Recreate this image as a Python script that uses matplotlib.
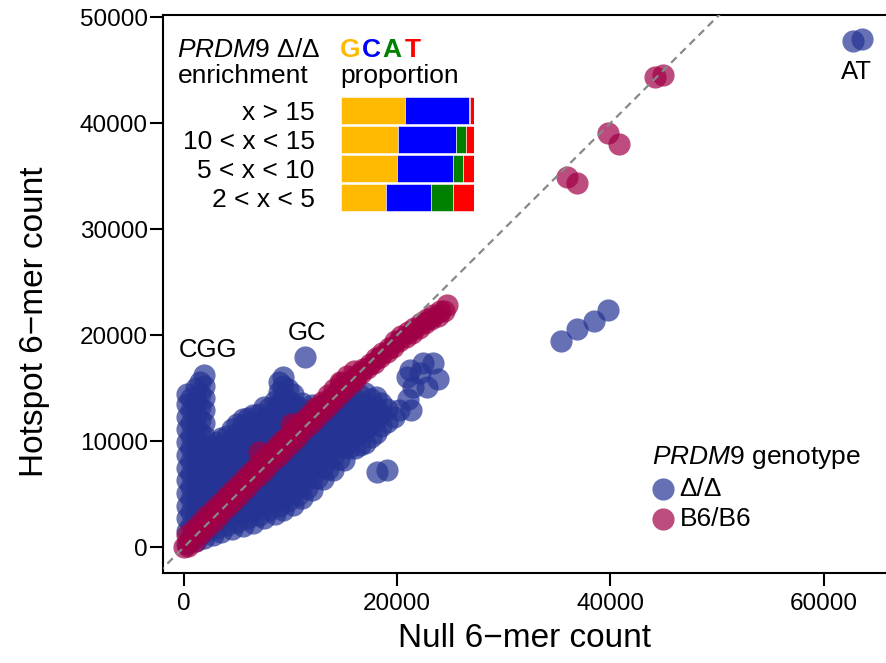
import matplotlib.pyplot as plt

plt.rcParams['font.family'] = ['Liberation Sans', 'DejaVu Sans']
plt.rcParams['mathtext.fontset'] = 'custom'
plt.rcParams['mathtext.rm'] = 'Liberation Sans'
plt.rcParams['mathtext.it'] = 'Liberation Sans:italic'
plt.rcParams['lines.scale_dashes'] = False

# 6-mer counts in thousands (null count, hotspot count)
# PRDM9 delta/delta cloud, given column by column
delta_cols = [
    (0.3, [0.3, 1.5, 2.7, 3.9, 5.1, 6.3, 7.5, 8.7, 9.9, 11.1, 12.3, 13.5, 14.4]),
    (0.7, [0.9, 2.1, 3.3, 4.5, 5.7, 6.9, 8.1, 9.3, 10.5, 11.7, 12.9, 14.1]),
    (1.1, [0.6, 1.8, 3.0, 4.2, 5.4, 6.6, 7.8, 9.0, 10.2, 11.4, 12.6, 13.8, 15.0]),
    (1.5, [1.2, 2.4, 3.6, 4.8, 6.0, 7.2, 8.4, 9.6, 10.8, 12.0, 13.2, 14.4, 15.6]),
    (1.9, [0.9, 2.1, 3.3, 4.5, 5.7, 6.9, 8.1, 9.3, 10.5, 11.7, 12.9, 14.1, 15.2, 16.2]),
    (2.3, [1.6, 2.8, 4.0, 5.2, 6.4, 7.6, 8.8, 9.6]),
    (2.7, [1.1, 2.3, 3.5, 4.7, 5.9, 7.1, 8.2, 9.0]),
    (3.1, [1.8, 3.0, 4.2, 5.4, 6.6, 7.8, 9.0, 9.9]),
    (3.5, [1.4, 2.6, 3.8, 5.0, 6.2, 7.4, 8.6, 9.6, 10.3]),
    (4.0, [2.1, 3.3, 4.5, 5.7, 6.9, 8.1, 9.3, 10.5]),
    (4.5, [1.7, 2.9, 4.1, 5.3, 6.5, 7.7, 8.9, 10.1, 11.1]),
    (5.0, [2.4, 3.6, 4.8, 6.0, 7.2, 8.4, 9.6, 10.8, 11.6]),
    (5.5, [2.0, 3.2, 4.4, 5.6, 6.8, 8.0, 9.2, 10.4, 11.5, 12.1]),
    (6.0, [2.7, 3.9, 5.1, 6.3, 7.5, 8.7, 9.9, 11.1, 12.2]),
    (6.5, [2.3, 3.5, 4.7, 5.9, 7.1, 8.3, 9.5, 10.7, 11.8, 12.5]),
    (7.0, [3.0, 4.2, 5.4, 6.6, 7.8, 9.0, 10.2, 11.4, 12.6]),
    (7.5, [2.7, 3.9, 5.1, 6.3, 7.5, 8.7, 9.9, 11.1, 12.2, 13.2]),
    (8.0, [3.5, 4.7, 5.9, 7.1, 8.3, 9.5, 10.7, 11.9, 13.1]),
    (8.5, [3.1, 4.3, 5.5, 6.7, 7.9, 9.1, 10.3, 11.5, 12.7, 13.8]),
    (8.9, [3.9, 5.1, 6.3, 7.5, 8.7, 9.9, 11.1, 12.3, 13.5, 14.6, 15.6]),
    (9.3, [3.5, 4.7, 5.9, 7.1, 8.3, 9.5, 10.7, 11.9, 13.1, 14.2, 15.2, 16.0]),
    (9.75, [4.3, 5.5, 6.7, 7.9, 9.1, 10.3, 11.5, 12.7, 13.9, 14.9]),
    (10.2, [4.0, 5.2, 6.4, 7.6, 8.8, 10.0, 11.2, 12.4, 13.5, 14.4]),
    (10.65, [4.9, 6.1, 7.3, 8.5, 9.7, 10.9, 12.1, 13.2]),
    (11.1, [4.6, 5.8, 7.0, 8.2, 9.4, 10.6, 11.8, 12.8, 13.6]),
    (11.55, [5.6, 6.8, 8.0, 9.2, 10.4, 11.6, 12.8]),
    (12.0, [5.4, 6.6, 7.8, 9.0, 10.2, 11.4, 12.6, 13.4]),
    (12.5, [6.5, 7.7, 8.9, 10.1, 11.3, 12.5]),
    (13.0, [6.4, 7.6, 8.8, 10.0, 11.2, 12.4, 13.4]),
    (13.5, [7.4, 8.6, 9.8, 11.0, 12.2, 13.2]),
    (14.0, [7.3, 8.5, 9.7, 10.9, 12.1, 13.2]),
    (14.5, [8.3, 9.5, 10.7, 11.9, 13.1]),
    (15.0, [8.2, 9.4, 10.6, 11.8, 13.0, 13.8]),
    (15.5, [9.3, 10.5, 11.7, 12.9, 14.0]),
    (16.0, [9.3, 10.5, 11.7, 12.9, 14.0]),
    (16.5, [9.6, 10.8, 12.0, 13.2, 14.3]),
    (17.0, [9.8, 11.0, 12.2, 13.4, 14.5]),
    (17.5, [10.4, 11.6, 12.8, 14.0]),
    (18.0, [10.8, 12.0, 13.2, 14.2]),
    (18.5, [11.4, 12.6, 13.6]),
    (19.0, [11.8, 13.0]),
]
# delta/delta points outside the main cloud
delta_extra_x = [20.2, 21.3, 19.7, 21.0, 21.5, 22.8, 23.8, 20.9, 22.1, 21.2, 22.4, 23.4,
                 18.1, 19.0, 11.35, 35.4, 36.9, 38.5, 39.8, 62.8, 63.6]
delta_extra_y = [12.9, 12.9, 12.3, 14.0, 15.1, 15.1, 15.9, 16.0, 16.4, 16.7, 17.4, 17.4,
                 7.1, 7.3, 17.9, 19.4, 20.6, 21.3, 22.4, 47.7, 47.9]

# PRDM9 B6/B6
b6_x = [0.0, 0.6, 1.2, 1.8, 2.4, 3.0, 3.6, 4.2, 4.8, 5.4, 6.0, 6.6, 7.0, 7.2, 7.8, 8.4,
        9.0, 9.6, 10.0, 10.2, 10.8, 11.4, 12.0, 12.6, 13.2, 13.8, 14.4, 14.6, 15.0, 15.6,
        16.2, 16.8, 17.4, 18.0, 18.6, 19.2, 19.8, 20.4, 21.0, 21.6, 22.2, 22.8, 23.4, 24.0,
        24.7, 35.9, 36.9, 39.8, 40.8, 44.2, 44.9,
        0.4, 1.0, 1.6, 2.2, 2.8, 3.4, 4.0, 4.6, 5.2, 5.8, 6.4, 7.0, 7.6, 8.2, 8.8, 9.4,
        10.0, 10.6, 11.2, 11.8, 12.4, 13.0, 13.6, 14.2, 14.8, 15.4, 16.0, 16.6, 17.2, 17.8,
        18.4, 19.0, 19.6, 20.2, 20.8, 21.4, 22.0, 22.6, 23.2, 23.8, 24.4,
        0.3, 0.9, 1.5, 2.1, 2.7, 3.3, 3.9, 4.5, 5.1, 5.7, 6.3, 6.9, 7.5, 8.1, 8.7, 9.3,
        9.9, 10.5, 11.1, 11.7, 12.3, 12.9, 13.5, 14.1, 14.7, 15.3, 15.9]
b6_y = [0.0, 0.8, 1.4, 2.0, 2.7, 3.3, 3.9, 4.6, 5.2, 5.8, 6.5, 7.1, 9.0, 7.8, 8.4, 9.0,
        9.6, 10.2, 11.6, 10.7, 11.3, 11.9, 12.5, 13.0, 13.6, 14.1, 14.7, 15.6, 15.2, 15.7,
        16.2, 16.8, 17.3, 17.8, 18.3, 18.8, 19.4, 19.9, 20.3, 20.7, 21.1, 21.5, 21.9, 22.3,
        22.8, 34.9, 34.3, 39.1, 38.0, 44.3, 44.5,
        0.1, 0.6, 1.3, 1.9, 2.5, 3.1, 3.8, 4.3, 4.9, 5.6, 6.2, 6.8, 7.4, 8.0, 8.6, 9.2,
        9.8, 10.4, 11.0, 11.6, 12.2, 12.8, 13.4, 14.0, 14.6, 15.2, 15.8, 16.4, 16.9, 17.4,
        17.9, 18.4, 18.9, 19.4, 19.8, 20.2, 20.7, 21.1, 21.5, 21.8, 22.3,
        1.1, 1.7, 2.3, 2.9, 3.5, 4.1, 4.7, 5.3, 5.9, 6.5, 7.1, 7.7, 8.3, 8.9, 9.5, 10.1,
        10.7, 11.3, 11.9, 12.5, 13.1, 13.7, 14.3, 14.9, 15.5, 16.1, 16.6]

labels = [("CGG", 2.25, 18.6), ("GC", 11.5, 20.2), ("AT", 63.1, 44.8)]

# inset: base proportions by enrichment bin
bins = ["x > 15", "10 < x < 15", "5 < x < 10", "2 < x < 5"]
g_prop = [0.48, 0.43, 0.42, 0.335]
c_prop = [0.485, 0.435, 0.425, 0.345]
a_prop = [0.005, 0.075, 0.075, 0.16]
t_prop = [0.03, 0.06, 0.08, 0.16]
base_colors = {"G": "#ffb900", "C": "#0000ff", "A": "#008000", "T": "#ff0000"}

blue = "#253494"
red = "#a00046"

dx, dy = [], []
for x, ys in delta_cols:
    dx += [x] * len(ys)
    dy += ys
dx += delta_extra_x
dy += delta_extra_y
dx = [v * 1000 for v in dx]
dy = [v * 1000 for v in dy]
bx = [v * 1000 for v in b6_x]
by = [v * 1000 for v in b6_y]

fig = plt.figure(figsize=(8.86, 6.63), dpi=100)
ax = fig.add_axes([0.184, 0.1357, 0.816, 0.8416])

sc_d = ax.scatter(dx, dy, s=255, color=blue, alpha=0.7, linewidths=0, zorder=2)
sc_b = ax.scatter(bx, by, s=255, color=red, alpha=0.7, linewidths=0, zorder=3)
ax.plot([-5000, 70000], [-5000, 70000], color="#888888", lw=1.6, dashes=(5.5, 3.8), zorder=4)

for txt, x, y in labels:
    ax.text(x * 1000, y * 1000, txt, ha="center", va="center", fontsize=18.5)

ax.set_xlim(-1970, 65850)
ax.set_ylim(-2450, 50190)
ax.set_xticks([0, 20000, 40000, 60000])
ax.set_yticks([0, 10000, 20000, 30000, 40000, 50000])
ax.tick_params(direction="out", length=9.5, width=1.5, labelsize=17.5, pad=1.5)
ax.tick_params(axis="x", pad=5)
for side in ["left", "bottom", "top"]:
    ax.spines[side].set_linewidth(1.5)
ax.spines["right"].set_visible(False)

ax.set_xlabel("Null 6\u2212mer count", fontsize=24)
ax.set_ylabel("Hotspot 6\u2212mer count", fontsize=24)
ax.xaxis.set_label_coords(0.5, -0.09)
ax.yaxis.set_label_coords(-0.157, 0.45)

leg = ax.legend([sc_d, sc_b], ["\u0394/\u0394", "B6/B6"], title="$\\mathit{PRDM9}$ genotype",
                loc="upper left", bbox_to_anchor=(652 / 886, 1 - 444 / 663),
                bbox_transform=fig.transFigure, frameon=False, fontsize=19,
                title_fontsize=19, handletextpad=0.2, labelspacing=0.22, borderpad=0,
                borderaxespad=0, alignment="left", handlelength=0.85, scatterpoints=1)

# inset bars
ins = fig.add_axes([341 / 886, 1 - 212 / 663, 133 / 886, 116 / 663])
rows = [3, 2, 1, 0]
left = [0.0] * 4
for base, vals in [("G", g_prop), ("C", c_prop), ("A", a_prop), ("T", t_prop)]:
    ins.barh(rows, vals, left=left, height=0.9, color=base_colors[base],
             edgecolor="white", linewidth=0.4)
    left = [l + v for l, v in zip(left, vals)]
ins.set_xlim(0, 1)
ins.set_ylim(-0.5, 3.5)
ins.set_xticks([])
ins.set_yticks(rows)
ins.set_yticklabels(bins, fontsize=19)
ins.tick_params(axis="y", length=0, pad=19)
for s in ins.spines.values():
    s.set_visible(False)
ins.patch.set_alpha(0)

fig.text(177 / 886, 1 - 57 / 663, "$\\mathit{PRDM9}$ \u0394/\u0394", fontsize=19, va="baseline")
fig.text(178 / 886, 1 - 83 / 663, "enrichment", fontsize=19, va="baseline")
for letter, px in [("G", 340), ("C", 362), ("A", 382), ("T", 405)]:
    fig.text(px / 886, 1 - 57 / 663, letter, fontsize=19, fontweight="bold",
             color=base_colors[letter], va="baseline")
fig.text(340 / 886, 1 - 83 / 663, "proportion", fontsize=19, va="baseline")

fig.savefig("out.png", dpi=100)
